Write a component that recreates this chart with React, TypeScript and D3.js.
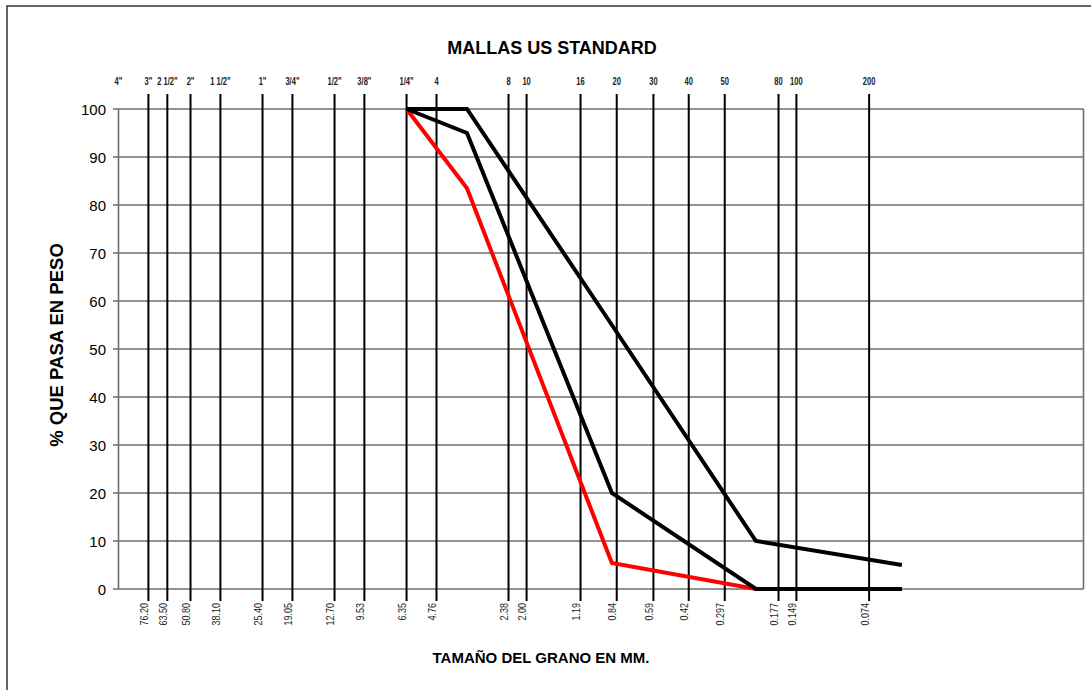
import React, { useEffect, useRef } from "react";
import * as d3 from "d3";

// sieve openings in mm (US standard), with the names printed above the grid
const sieveMm = [101.6, 76.2, 63.5, 50.8, 38.1, 25.4, 19.05, 12.7, 9.53, 6.35, 4.76, 2.38, 2.0, 1.19, 0.84, 0.59, 0.42, 0.297, 0.177, 0.149, 0.074];
const sieveNames = ['4"', '3"', '2 1/2"', '2"', '1 1/2"', '1"', '3/4"', '1/2"', '3/8"', '1/4"', "4", "8", "10", "16", "20", "30", "40", "50", "80", "100", "200"];
const sieveMmLabels = ["", "76.20", "63.50", "50.80", "38.10", "25.40", "19.05", "12.70", "9.53", "6.35", "4.76", "2.38", "2.00", "1.19", "0.84", "0.59", "0.42", "0.297", "0.177", "0.149", "0.074"];

// grading curves (% passing)
const curveMm = [6.35, 3.55, 0.88, 0.22, 0.054];
const curveRed = [100, 83.5, 5.4, 0, 0];
const curveLow = [100, 95, 20, 0, 0];
const curveHigh = [100, 100, 55, 10, 5];

const yTicks = [0, 10, 20, 30, 40, 50, 60, 70, 80, 90, 100];

const FONT = "'Liberation Sans', Arial, sans-serif";

export default function App() {
  const ref = useRef<SVGSVGElement>(null);

  useEffect(() => {
    const svg = d3.select(ref.current);
    svg.selectAll("*").remove();

    const x = d3.scaleLog().domain([101.6, 0.0094]).range([118.5, 1083.5]);
    const y = d3.scaleLinear().domain([0, 100]).range([589, 109]);

    // page frame
    svg.append("path")
      .attr("d", "M7,690 L7,6 L1091,6")
      .attr("fill", "none")
      .attr("stroke", "#333")
      .attr("stroke-width", 1.5);

    // title
    svg.append("text")
      .attr("x", 552)
      .attr("y", 54)
      .attr("text-anchor", "middle")
      .attr("font-family", FONT)
      .attr("font-weight", "bold")
      .attr("font-size", 18)
      .text("MALLAS US STANDARD");

    // horizontal grid (grey)
    svg.append("g")
      .selectAll("line")
      .data(yTicks)
      .enter()
      .append("line")
      .attr("x1", 113)
      .attr("x2", x.range()[1])
      .attr("y1", (d) => y(d))
      .attr("y2", (d) => y(d))
      .attr("stroke", "#6e6e6e")
      .attr("stroke-width", 1.6);

    // y axis + right edge
    svg.append("line")
      .attr("x1", x.range()[0]).attr("x2", x.range()[0])
      .attr("y1", y(100)).attr("y2", y(0))
      .attr("stroke", "#6e6e6e").attr("stroke-width", 1.6);
    svg.append("line")
      .attr("x1", x.range()[1]).attr("x2", x.range()[1])
      .attr("y1", y(100)).attr("y2", y(0))
      .attr("stroke", "#6e6e6e").attr("stroke-width", 1.6);

    svg.append("g")
      .selectAll("text")
      .data(yTicks)
      .enter()
      .append("text")
      .attr("x", 106)
      .attr("y", (d) => y(d) + 5.5)
      .attr("text-anchor", "end")
      .attr("font-family", FONT)
      .attr("font-size", 15)
      .text((d) => d);

    // vertical sieve lines (black), skipping 4" which sits on the axis
    svg.append("g")
      .selectAll("line")
      .data(sieveMm.slice(1))
      .enter()
      .append("line")
      .attr("x1", (d) => x(d))
      .attr("x2", (d) => x(d))
      .attr("y1", 94)
      .attr("y2", 601)
      .attr("stroke", "#000")
      .attr("stroke-width", 2);

    // sieve names on top
    svg.append("g")
      .selectAll("text")
      .data(sieveMm)
      .enter()
      .append("text")
      .attr("transform", (d) => "translate(" + x(d) + ",85) scale(0.72,1)")
      .attr("text-anchor", "middle")
      .attr("font-family", FONT)
      .attr("font-weight", "bold")
      .attr("font-size", 10.5)
      .attr("fill", "#222")
      .text((d, i) => sieveNames[i]);

    // openings in mm below, rotated
    svg.append("g")
      .selectAll("text")
      .data(sieveMm)
      .enter()
      .append("text")
      .attr("transform", (d) => "translate(" + (x(d) - 0.5) + ",603) rotate(-90) scale(0.86,1)")
      .attr("text-anchor", "end")
      .attr("font-family", FONT)
      .attr("font-size", 10.5)
      .attr("fill", "#222")
      .text((d, i) => sieveMmLabels[i]);

    // curves
    const line = d3.line<number>()
      .x((d, i) => x(curveMm[i]))
      .y((d) => y(d));

    const curves = [
      { values: curveRed, color: "#ff0000" },
      { values: curveLow, color: "#000" },
      { values: curveHigh, color: "#000" }
    ];
    svg.append("g")
      .selectAll("path")
      .data(curves)
      .enter()
      .append("path")
      .attr("d", (c) => line(c.values))
      .attr("fill", "none")
      .attr("stroke", (c) => c.color)
      .attr("stroke-width", 4)
      .attr("stroke-linejoin", "miter");

    // axis titles
    svg.append("text")
      .attr("x", 541)
      .attr("y", 663)
      .attr("text-anchor", "middle")
      .attr("font-family", FONT)
      .attr("font-weight", "bold")
      .attr("font-size", 15)
      .text("TAMAÑO DEL GRANO EN MM.");

    svg.append("text")
      .attr("transform", "translate(63,345) rotate(-90)")
      .attr("text-anchor", "middle")
      .attr("font-family", FONT)
      .attr("font-weight", "bold")
      .attr("font-size", 18.5)
      .text("% QUE PASA EN PESO");
  }, []);

  return (
    <svg
      ref={ref}
      width={1091}
      height={690}
      style={{ position: "absolute", left: 0, top: 0, background: "#fff" }}
    />
  );
}
